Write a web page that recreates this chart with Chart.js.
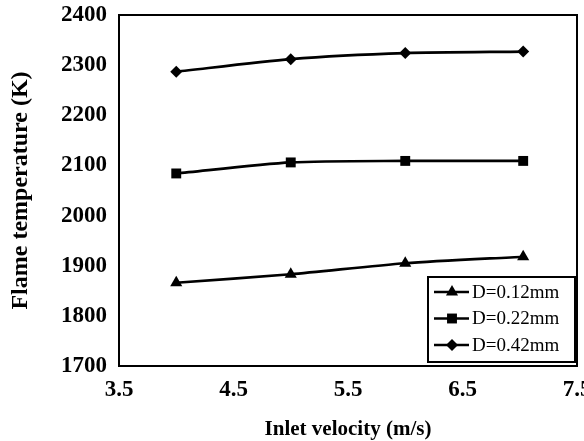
<!DOCTYPE html>
<html>
<head>
<meta charset="utf-8">
<script src="https://cdn.jsdelivr.net/npm/chart.js@4/dist/chart.umd.min.js"></script>
<style>
  body { margin: 0; background: #fff; }
  canvas { display: block; }
</style>
</head>
<body>
<canvas id="flameChart" width="584" height="441"></canvas>
<script>
/* DATA */
const velocities = [4, 5, 6, 7.03];
const seriesLabels = ["D=0.12mm", "D=0.22mm", "D=0.42mm"];
const tempD012 = [1866, 1883, 1905, 1918];
const tempD022 = [2084, 2106, 2109, 2109];
const tempD042 = [2287, 2312, 2324, 2327];
const pointStyles = ["triangle", "rect", "rectRot"];
const pointSizes = [7, 7, 6];

const serif = "'Liberation Serif', 'Times New Roman', serif";

function toPoints(vals) {
  return vals.map((v, i) => ({ x: velocities[i], y: v }));
}

const datasets = [tempD012, tempD022, tempD042].map((vals, i) => ({
  label: seriesLabels[i],
  data: toPoints(vals),
  borderColor: "#000",
  backgroundColor: "#000",
  borderWidth: 2.6,
  pointStyle: pointStyles[i],
  pointRadius: pointSizes[i],
  pointBorderWidth: 0,
  tension: 0.25
}));

/* FRAME + LEGEND */
const framePlugin = {
  id: "frame",
  afterDraw(chart) {
    const { ctx, chartArea: a } = chart;
    ctx.save();
    ctx.strokeStyle = "#000";
    ctx.lineWidth = 2;
    ctx.strokeRect(a.left, a.top, a.right - a.left, a.bottom - a.top);

    // legend box, lower right corner
    const bw = 147, bh = 85;
    const bx = a.right - 2 - bw, by = a.bottom - 4 - bh;
    ctx.fillStyle = "#fff";
    ctx.fillRect(bx, by, bw, bh);
    ctx.strokeRect(bx, by, bw, bh);

    ctx.font = "19px " + serif;
    ctx.textBaseline = "middle";
    ctx.textAlign = "left";
    chart.data.datasets.forEach((ds, i) => {
      const y = by + 15 + i * 26.5;
      ctx.strokeStyle = "#000";
      ctx.lineWidth = 2.6;
      ctx.beginPath();
      ctx.moveTo(bx + 6, y);
      ctx.lineTo(bx + 41, y);
      ctx.stroke();
      ctx.fillStyle = "#000";
      Chart.helpers.drawPoint(ctx, {
        pointStyle: ds.pointStyle, radius: ds.pointRadius, rotation: 0, borderWidth: 0
      }, bx + 24, y);
      ctx.fillText(ds.label, bx + 44, y + 1);
    });
    ctx.restore();
  }
};

new Chart(document.getElementById("flameChart"), {
  type: "line",
  data: { datasets },
  options: {
    responsive: false,
    animation: false,
    layout: { padding: { left: 0, right: 2, top: 15, bottom: 0 } },
    plugins: { legend: { display: false }, tooltip: { enabled: false } },
    scales: {
      x: {
        type: "linear",
        min: 3.5,
        max: 7.5,
        grid: { display: false, drawTicks: false },
        border: { display: false },
        ticks: {
          stepSize: 1,
          padding: 10,
          maxRotation: 0,
          autoSkip: false,
          color: "#000",
          font: { family: serif, size: 23, weight: "bold" },
          callback: v => v.toFixed(1)
        },
        title: {
          display: true,
          text: "Inlet velocity (m/s)",
          color: "#000",
          font: { family: serif, size: 21, weight: "bold", lineHeight: 1 },
          padding: { top: 0, bottom: 1 }
        },
        afterFit(scale) {
          scale.height = 75;
          scale.paddingLeft = 0;
          scale.paddingRight = 0;
        }
      },
      y: {
        min: 1700,
        max: 2400,
        grid: { display: false, drawTicks: false },
        border: { display: false },
        ticks: {
          stepSize: 100,
          padding: 12,
          color: "#000",
          font: { family: serif, size: 23, weight: "bold" },
          callback: v => String(v)
        },
        title: {
          display: true,
          text: "Flame temperature (K)",
          color: "#000",
          font: { family: serif, size: 24, weight: "bold", lineHeight: 1 },
          padding: { top: 9, bottom: 0 }
        },
        afterFit(scale) {
          scale.width = 119;
          scale.paddingTop = 0;
          scale.paddingBottom = 0;
        }
      }
    }
  },
  plugins: [framePlugin]
});
</script>
</body>
</html>
